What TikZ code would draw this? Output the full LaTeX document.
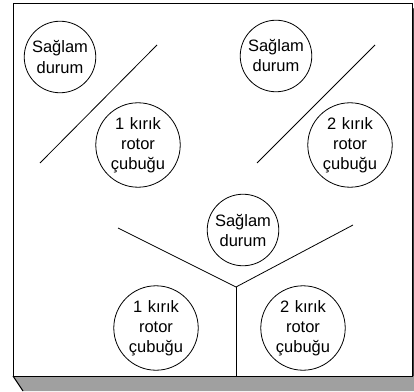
\documentclass[tikz,border=0pt]{standalone}
\usepackage{fontspec}
\setmainfont{Liberation Sans}
\usetikzlibrary{calc}
\definecolor{bandgray}{RGB}{160,160,160}
\definecolor{edgegray}{RGB}{60,60,60}
\tikzset{
	state/.style={circle, draw, line width=0.8pt, inner sep=0pt, text width=64pt, align=center,
		font=\fontsize{16.5}{20}\selectfont},
	healthy/.style={state, minimum size=68pt},
	broken/.style={state, minimum size=75pt},
	divider/.style={line width=0.8pt}
}

\begin{document}
\begin{tikzpicture}[x=1pt, y=1pt]
				\useasboundingbox (0,0) rectangle (414,391);
				
				% bottom and right faces
				\fill[bandgray] (13,15) -- (23,0) -- (414,0) -- (414,15) -- cycle;
				\fill[edgegray] (412,384) -- (414,382) -- (414,15) -- (412,15) -- cycle;
				\draw[line width=1pt] (13,15) -- (23,0);
				
				% front face
				\draw[fill=white, line width=1pt] (13,15) rectangle (412,387);
				
				% top left
				\node[healthy] (okA) at (60,334) {Sağlam\\durum};
				\node[broken] (oneA) at (138,246) {1 kırık\\rotor\\çubuğu};
				\coordinate (cutAtop) at (157,346);
				\coordinate (cutAbot) at (40,228);
				\draw[divider] (cutAtop) -- (cutAbot);
				
				% top right
				\node[healthy] (okB) at (276,335) {Sağlam\\durum};
				\node[broken] (twoB) at (350,246) {2 kırık\\rotor\\çubuğu};
				\coordinate (cutBtop) at (375,346);
				\coordinate (cutBbot) at (257,228);
				\draw[divider] (cutBtop) -- (cutBbot);
				
				% bottom
				\node[healthy] (okC) at (243,161) {Sağlam\\durum};
				\node[broken] (oneC) at (156,63) {1 kırık\\rotor\\çubuğu};
				\node[broken] (twoC) at (303,63) {2 kırık\\rotor\\çubuğu};
				\coordinate (fork) at (236,104);
				\coordinate (forkL) at (118,163);
				\coordinate (forkR) at (353,166);
				\coordinate (forkD) at (236,15);
				\draw[divider] (forkL) -- (fork) -- (forkR);
				\draw[divider] (fork) -- (forkD);
			\end{tikzpicture}
\end{document}
